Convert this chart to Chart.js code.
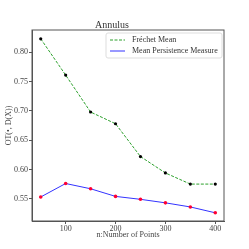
<!DOCTYPE html>
<html>
<head>
<meta charset="utf-8">
<script src="https://cdn.jsdelivr.net/npm/chart.js@4/dist/chart.umd.min.js"></script>
<style>
  html, body { margin: 0; padding: 0; background: #fff; }
  #wrap { width: 249px; height: 249px; }
</style>
</head>
<body>
<div id="wrap"><canvas id="myChart" width="249" height="249"></canvas></div>
<script>
// Datos
const points = [50, 100, 150, 200, 250, 300, 350, 400]
const frechet = [0.823, 0.761, 0.698, 0.678, 0.622, 0.594, 0.575, 0.575]
const meanPers = [0.553, 0.576, 0.567, 0.554, 0.549, 0.543, 0.536, 0.526]
const xTicks = [100, 200, 300, 400]
const yTicks = [0.55, 0.60, 0.65, 0.70, 0.75, 0.80]

const FONT = "'Liberation Serif', 'DejaVu Serif', serif"

// Leyenda y marco dentro del área del gráfico
const framePlugin = {
  id: 'frame',
  afterDraw: chart => {
    const {ctx, chartArea: a} = chart
    ctx.save()
    ctx.strokeStyle = '#555'
    ctx.lineWidth = 1
    ctx.strokeRect(a.left, a.top, a.right - a.left, a.bottom - a.top)

    // caja de leyenda
    const bx = 106, by = 33, bw = 116, bh = 25
    ctx.fillStyle = 'rgba(255,255,255,0.85)'
    ctx.strokeStyle = '#ddd'
    ctx.beginPath()
    ctx.roundRect(bx, by, bw, bh, 2)
    ctx.fill()
    ctx.stroke()
    ctx.font = `8px ${FONT}`
    ctx.textBaseline = 'middle'
    chart.data.datasets.forEach((ds, i) => {
      const y = by + 7 + i * 11
      ctx.strokeStyle = ds.borderColor
      ctx.lineWidth = 1
      ctx.setLineDash(ds.borderDash || [])
      ctx.beginPath()
      ctx.moveTo(110, y)
      ctx.lineTo(125, y)
      ctx.stroke()
      ctx.setLineDash([])
      ctx.fillStyle = '#333'
      ctx.fillText(ds.label, 132, y)
    })
    ctx.restore()
  }
}

const data = {
  labels: points,
  datasets: [
    {
      label: 'Fréchet Mean',
      data: points.map((x, i) => ({x: x, y: frechet[i]})),
      borderColor: '#2ca02c',
      borderWidth: 1,
      borderDash: [3, 1.5],
      pointStyle: 'circle',
      pointRadius: 1.6,
      pointBorderWidth: 0,
      pointBackgroundColor: '#000',
      tension: 0
    },
    {
      label: 'Mean Persistence Measure',
      data: points.map((x, i) => ({x: x, y: meanPers[i]})),
      borderColor: '#3333ff',
      borderWidth: 1,
      pointRadius: 1.8,
      pointBorderWidth: 0,
      pointBackgroundColor: '#ff0033',
      tension: 0
    }
  ]
}

const config = {
  type: 'line',
  data: data,
  options: {
    responsive: false,
    animation: false,
    layout: {
      padding: {left: 0, right: 25, top: 0, bottom: 9}
    },
    plugins: {
      legend: {display: false},
      tooltip: {enabled: false},
      title: {
        display: true,
        text: 'Annulus',
        color: '#333',
        font: {family: FONT, size: 10, weight: 'normal', lineHeight: 1},
        padding: {top: 20, bottom: 0}
      }
    },
    scales: {
      x: {
        type: 'linear',
        min: 32.5,
        max: 417.5,
        afterBuildTicks: s => { s.ticks = xTicks.map(v => ({value: v})) },
        afterFit: s => { s.height = 19 },
        grid: {drawOnChartArea: false, drawTicks: true, tickLength: 3, color: '#555'},
        border: {color: '#555'},
        ticks: {color: '#444', font: {family: FONT, size: 8}, padding: 0, maxRotation: 0},
        title: {
          display: true,
          text: 'n:Number of Points',
          color: '#444',
          font: {family: FONT, size: 8, style: 'normal'},
          padding: {top: 0, bottom: 0}
        }
      },
      y: {
        type: 'linear',
        min: 0.512,
        max: 0.838,
        afterBuildTicks: s => { s.ticks = yTicks.map(v => ({value: v})) },
        afterFit: s => { s.width = 32 },
        grid: {drawOnChartArea: false, drawTicks: true, tickLength: 3, color: '#555'},
        border: {color: '#555'},
        ticks: {
          color: '#444',
          font: {family: FONT, size: 8},
          padding: 1,
          callback: v => v.toFixed(2)
        },
        title: {
          display: true,
          text: 'OT(•, D(X))',
          color: '#444',
          font: {family: FONT, size: 8},
          padding: {top: 4, bottom: 0}
        }
      }
    }
  },
  plugins: [framePlugin]
}

const ctx = document.getElementById('myChart')
const myChart = new Chart(ctx, config)
</script>
</body>
</html>
